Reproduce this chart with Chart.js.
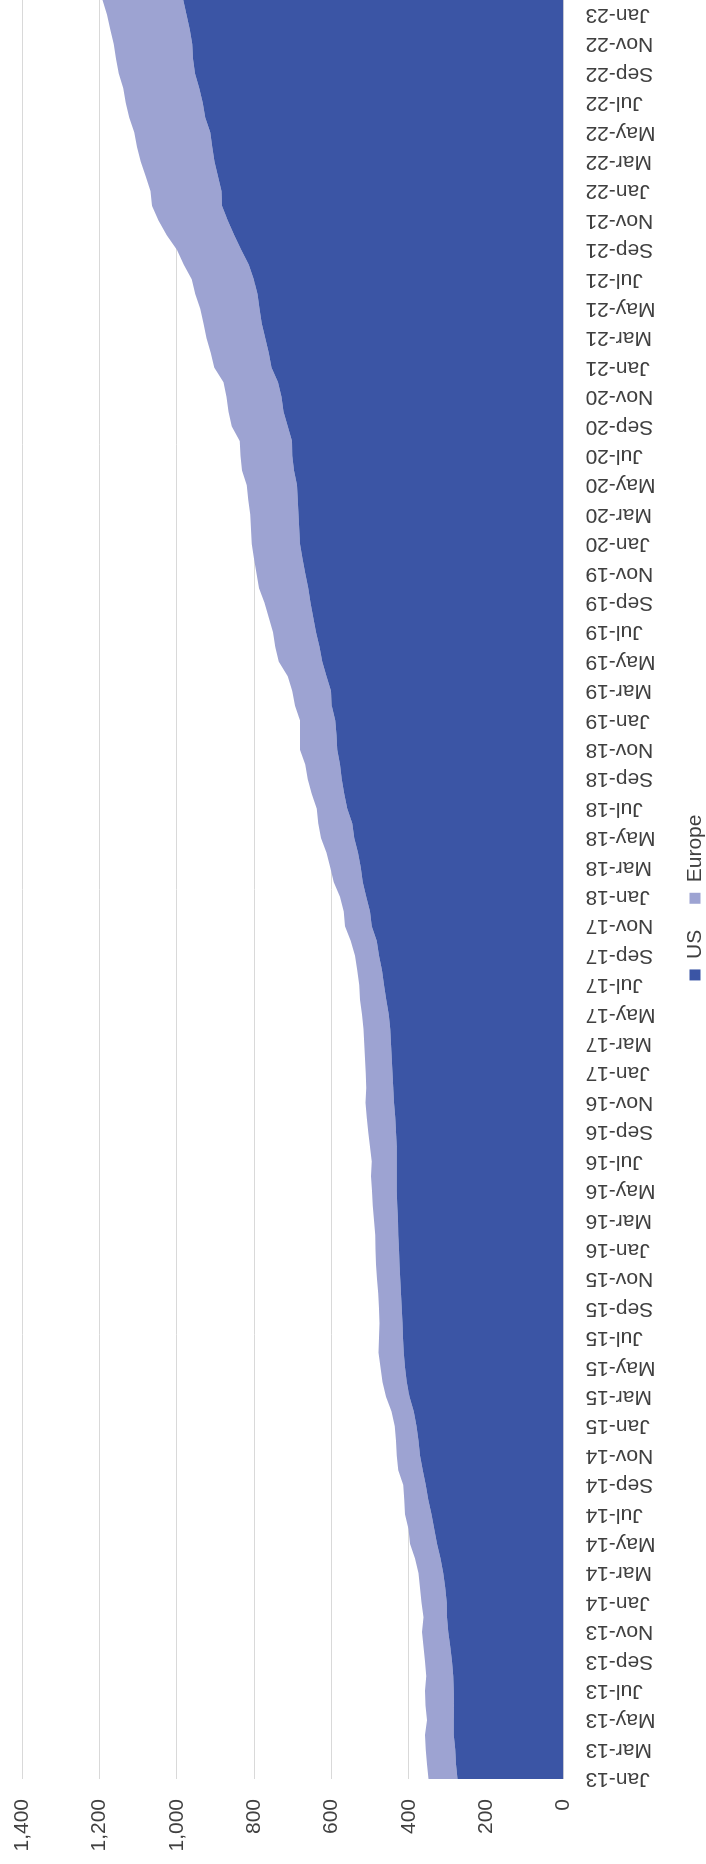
<!DOCTYPE html>
<html>
<head>
<meta charset="utf-8">
<script src="https://cdn.jsdelivr.net/npm/chart.js@4"></script>
<style>
  html, body { margin: 0; padding: 0; background: #fff; overflow: hidden; }
  #wrap {
    position: absolute; left: 0; top: 0;
    width: 1864px; height: 706px;
    transform-origin: 0 0;
    transform: translateY(1864px) rotate(-90deg);
    background: #fff;
  }
</style>
</head>
<body>
<div id="wrap"><canvas id="grafico" width="1864" height="706"></canvas></div>
<script>
// meses e anos do eixo (Jan-13 ate Feb-23, mensal)
const meses = ["Jan", "Feb", "Mar", "Apr", "May", "Jun", "Jul", "Aug", "Sep", "Oct", "Nov", "Dec"];
const anos = ["13", "14", "15", "16", "17", "18", "19", "20", "21", "22", "23"];
const categorias = [];
anos.forEach((a) => meses.forEach((m) => categorias.push(m + "-" + a)));
categorias.length = 122;

// valores
const us = [
  274, 278, 280, 284, 284, 283, 284, 285, 288, 293, 298, 301,
  302, 306, 311, 318, 327, 334, 341, 350, 356, 364, 371, 375,
  380, 387, 398, 405, 410, 413, 415, 416, 418, 420, 422, 424,
  425, 427, 428, 430, 431, 431, 431, 431, 433, 435, 438, 440,
  442, 444, 446, 448, 452, 458, 464, 469, 477, 483, 496, 500,
  510, 519, 524, 531, 541, 546, 559, 567, 573, 578, 585, 587,
  590, 599, 601, 613, 624, 631, 640, 647, 654, 660, 668, 675,
  681, 683, 685, 687, 689, 697, 701, 702, 713, 724, 729, 738,
  755, 762, 771, 780, 786, 791, 801, 814, 833, 851, 868, 883,
  884, 893, 902, 908, 913, 926, 933, 942, 953, 958, 960, 966,
  975, 983
];
const europe = [
  75, 75, 76, 74, 69, 74, 74, 70, 70, 69, 68, 61,
  65, 65, 64, 66, 70, 67, 69, 62, 58, 63, 60, 58,
  56, 58, 61, 63, 63, 65, 62, 60, 59, 59, 60, 61,
  61, 60, 62, 63, 64, 67, 65, 69, 72, 74, 74, 70,
  69, 69, 69, 69, 69, 68, 64, 64, 62, 67, 69, 68,
  68, 75, 79, 82, 86, 88, 79, 84, 88, 90, 96, 94,
  91, 95, 100, 100, 112, 114, 111, 115, 119, 127, 126, 125,
  125, 125, 125, 128, 130, 134, 134, 135, 145, 142, 142, 141,
  148, 150, 152, 151, 153, 161, 160, 168, 166, 175, 179, 181,
  184, 187, 191, 195, 197, 197, 199, 196, 197, 199, 203, 206,
  205, 209
];
const ticksY = [0, 200, 400, 600, 800, 1000, 1200, 1400];

Chart.defaults.font.family = "'Liberation Sans', Arial, sans-serif";
Chart.defaults.font.size = 21;
Chart.defaults.color = "#404040";

const ctx = document.getElementById("grafico").getContext("2d");

// empurra a legenda um pouco para a esquerda (como no original)
const ajusteLegenda = {
  id: "ajusteLegenda",
  afterLayout(c) {
    c.legend.left -= 8;
    c.legend.right -= 8;
  },
};

const config = {
  type: "line",
  data: {
    labels: categorias,
    datasets: [
      {
        label: "US",
        data: us,
        backgroundColor: "#3B55A5",
        borderWidth: 0,
        pointRadius: 0,
        fill: "origin",
      },
      {
        label: "Europe",
        data: europe,
        backgroundColor: "#9DA3D2",
        borderWidth: 0,
        pointRadius: 0,
        fill: "-1",
      },
    ],
  },
  options: {
    responsive: false,
    animation: false,
    layout: { padding: { top: 22, left: 0, right: 0, bottom: -9.5 } },
    scales: {
      x: {
        offset: false,
        z: 1,
        grid: { display: false },
        border: { display: true, color: "#d9d9d9" },
        ticks: {
          autoSkip: false,
          minRotation: 90,
          maxRotation: 90,
          padding: 14,
          callback: (v, i) => (i % 2 === 0 ? categorias[i] : ""),
        },
        afterFit: (s) => {
          s.height = 95;
          s.paddingLeft = 0;
          s.paddingRight = 0;
        },
      },
      y: {
        stacked: true,
        min: ticksY[0],
        max: ticksY[ticksY.length - 1],
        afterBuildTicks: (s) => {
          s.ticks = ticksY.map((v) => ({ value: v }));
        },
        grid: { color: "#d9d9d9", drawTicks: false },
        border: { display: false },
        ticks: {
          padding: 20,
          callback: (v) => v.toLocaleString("en-US"),
        },
        afterFit: (s) => {
          s.width = 85;
          s.paddingTop = 0;
          s.paddingBottom = 0;
        },
      },
    },
    plugins: {
      legend: {
        position: "bottom",
        fullSize: false,
        labels: { boxWidth: 11, boxHeight: 11, padding: 26 },
      },
      tooltip: { enabled: false },
    },
  },
  plugins: [ajusteLegenda],
};

const chart = new Chart(ctx, config);
</script>
</body>
</html>
